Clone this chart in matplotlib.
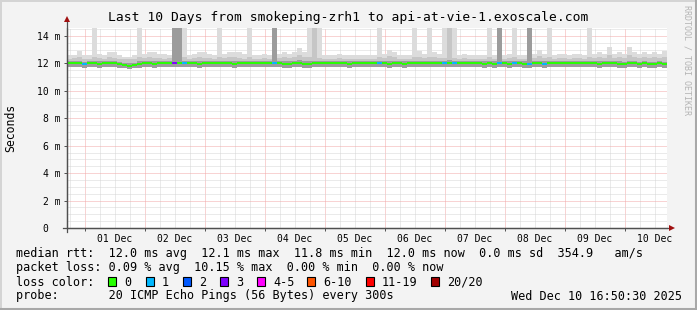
import matplotlib
matplotlib.use('Agg')
import matplotlib.pyplot as plt
from matplotlib.lines import Line2D
from matplotlib.patches import Rectangle
import numpy as np

plt.rcParams['font.family'] = ['DejaVu Sans Mono']

W, H = 697, 310

title = 'Last 10 Days from smokeping-zrh1 to api-at-vie-1.exoscale.com'
day_labels = ['01 Dec', '02 Dec', '03 Dec', '04 Dec', '05 Dec',
              '06 Dec', '07 Dec', '08 Dec', '09 Dec', '10 Dec']
ytick_vals = [0, 2, 4, 6, 8, 10, 12, 14]
ytick_labels = ['0  ', '2 m', '4 m', '6 m', '8 m', '10 m', '12 m', '14 m']

# time in days from 01 Dec 00:00, 120 bins of 2 hours ending Dec 10 16:50:30
t_start = -(7 + 9.5 / 60) / 24
n_bins = 120

# median rtt per bin (ms)
med = [12.0, 12.0, 12.0, 11.95, 12.0, 12.0, 11.95, 12.0, 12.0, 12.0, 11.95, 11.85,
       11.8, 11.9, 11.95, 12.0, 12.0, 11.95, 12.0, 12.0, 12.0, 12.0, 12.0, 12.0,
       12.0, 12.0, 11.95, 12.0, 12.0, 12.0, 12.05, 12.0, 12.0, 11.95, 12.0, 12.0,
       12.0, 12.0, 12.0, 12.05, 12.0, 12.0, 12.0, 11.95, 11.95, 12.0, 12.0, 11.95,
       11.95, 12.0, 12.0, 12.0, 12.05, 12.0, 12.0, 12.0, 11.95, 12.0, 12.0, 12.0,
       12.0, 12.0, 12.0, 12.05, 11.95, 12.0, 12.0, 11.95, 12.0, 12.0, 12.0, 12.0,
       12.0, 12.0, 12.0, 12.0, 12.0, 12.0, 12.0, 12.0, 12.0, 12.0, 12.0, 11.95,
       12.0, 11.95, 12.0, 12.0, 11.95, 12.0, 12.0, 11.95, 11.95, 12.0, 12.0, 11.95,
       12.0, 12.0, 12.0, 12.0, 12.0, 12.05, 12.0, 12.0, 12.0, 12.0, 11.95, 12.0,
       12.0, 12.0, 11.95, 11.95, 12.05, 12.0, 11.95, 12.0, 11.95, 11.95, 12.0, 11.95]

# lost pings (of 20) per bin
loss = [0, 0, 0, 1, 0, 0, 0, 0, 0, 0, 0, 0,
        0, 0, 0, 0, 0, 0, 0, 0, 0, 3, 0, 1,
        0, 0, 0, 0, 0, 0, 0, 0, 0, 0, 0, 0,
        0, 0, 0, 0, 0, 1, 0, 0, 0, 0, 0, 0,
        0, 0, 0, 0, 0, 0, 0, 0, 0, 0, 0, 0,
        0, 0, 1, 0, 0, 0, 0, 0, 0, 0, 0, 0,
        0, 0, 0, 1, 0, 1, 0, 0, 0, 0, 0, 0,
        0, 0, 1, 0, 0, 1, 0, 0, 1, 0, 0, 1,
        0, 0, 0, 0, 0, 0, 0, 0, 0, 0, 0, 0,
        0, 0, 0, 0, 0, 0, 0, 0, 0, 0, 0, 0]

# smoke: lowest ping, dark core top, medium band top, highest ping (ms)
s_lo = [11.75, 11.75, 11.75, 11.7, 11.75, 11.75, 11.7, 11.75, 11.75, 11.75, 11.7, 11.65,
        11.6, 11.65, 11.7, 11.75, 11.75, 11.7, 11.75, 11.75, 11.75, 11.75, 11.75, 11.75,
        11.75, 11.75, 11.7, 11.75, 11.75, 11.75, 11.75, 11.75, 11.75, 11.7, 11.75, 11.75,
        11.75, 11.75, 11.75, 11.75, 11.75, 11.75, 11.75, 11.7, 11.7, 11.75, 11.75, 11.7,
        11.7, 11.75, 11.75, 11.75, 11.75, 11.75, 11.75, 11.75, 11.7, 11.75, 11.75, 11.75,
        11.75, 11.75, 11.75, 11.75, 11.7, 11.75, 11.75, 11.7, 11.75, 11.75, 11.75, 11.75,
        11.75, 11.75, 11.75, 11.75, 11.75, 11.75, 11.75, 11.75, 11.75, 11.75, 11.75, 11.7,
        11.75, 11.7, 11.75, 11.75, 11.7, 11.75, 11.75, 11.7, 11.7, 11.75, 11.75, 11.7,
        11.75, 11.75, 11.75, 11.75, 11.75, 11.75, 11.75, 11.75, 11.75, 11.75, 11.7, 11.75,
        11.75, 11.75, 11.7, 11.7, 11.75, 11.75, 11.7, 11.75, 11.7, 11.7, 11.75, 11.7]

s_mid = [12.15, 12.15, 12.2, 12.1, 12.15, 12.2, 12.15, 12.15, 12.2, 12.15, 12.1, 12.05,
         12.0, 12.05, 12.15, 12.2, 12.2, 12.15, 12.15, 12.15, 12.15, 14.7, 14.7, 12.2,
         12.15, 12.15, 12.15, 12.2, 12.15, 12.15, 12.2, 12.15, 12.2, 12.15, 12.15, 12.15,
         12.2, 12.15, 12.15, 12.2, 12.15, 14.7, 12.15, 12.2, 12.15, 12.15, 12.25, 12.15,
         12.2, 12.2, 12.2, 12.15, 12.2, 12.15, 12.15, 12.15, 12.15, 12.15, 12.15, 12.15,
         12.15, 12.15, 12.2, 12.2, 12.2, 12.15, 12.15, 12.15, 12.15, 12.2, 12.2, 12.15,
         12.2, 12.15, 12.15, 12.2, 12.25, 12.2, 12.15, 12.15, 12.15, 12.15, 12.15, 12.15,
         12.2, 12.15, 14.7, 12.15, 12.15, 12.2, 12.15, 12.15, 14.7, 12.15, 12.2, 12.15,
         12.2, 12.15, 12.15, 12.15, 12.15, 12.2, 12.15, 12.15, 12.2, 12.15, 12.15, 12.15,
         12.2, 12.15, 12.15, 12.1, 12.2, 12.15, 12.1, 12.15, 12.1, 12.1, 12.15, 12.1]

s_hi = [12.35, 12.4, 12.5, 12.35, 12.35, 12.45, 12.4, 12.35, 12.45, 12.4, 12.35, 12.3,
        12.3, 12.35, 12.45, 12.4, 12.45, 12.4, 12.4, 12.35, 12.4, 12.5, 12.5, 12.45,
        12.35, 12.4, 12.45, 12.4, 12.4, 12.35, 12.5, 12.4, 12.45, 12.45, 12.4, 12.35,
        12.5, 12.35, 12.35, 12.4, 12.35, 12.5, 12.4, 12.45, 12.4, 12.45, 12.6, 12.45,
        12.5, 14.7, 12.4, 12.35, 12.35, 12.35, 12.4, 12.35, 12.35, 12.35, 12.35, 12.35,
        12.35, 12.35, 12.5, 12.4, 12.55, 12.45, 12.35, 12.35, 12.35, 12.5, 12.5, 12.4,
        12.5, 12.45, 12.4, 12.4, 14.7, 12.4, 12.35, 12.4, 12.35, 12.35, 12.35, 12.35,
        12.5, 12.35, 12.5, 12.35, 12.4, 12.5, 12.35, 12.35, 12.5, 12.4, 12.55, 12.4,
        12.5, 12.35, 12.4, 12.4, 12.35, 12.4, 12.4, 12.35, 12.5, 12.4, 12.45, 12.4,
        12.6, 12.4, 12.45, 12.4, 12.6, 12.45, 12.4, 12.45, 12.4, 12.45, 12.4, 12.5]

s_max = [12.6, 12.6, 12.9, 12.6, 12.6, 14.7, 12.7, 12.6, 12.8, 12.8, 12.6, 12.5,
         12.5, 12.6, 14.7, 12.7, 12.8, 12.8, 12.7, 12.7, 12.6, 14.7, 14.7, 14.7,
         12.6, 12.7, 12.8, 12.8, 12.7, 12.6, 14.7, 12.7, 12.8, 12.8, 12.8, 12.7,
         14.7, 12.6, 12.6, 12.7, 12.6, 14.7, 12.7, 12.8, 12.7, 12.8, 13.1, 12.8,
         14.7, 14.7, 14.7, 12.6, 12.6, 12.6, 12.7, 12.6, 12.6, 12.6, 12.6, 12.6,
         12.6, 12.6, 14.7, 12.7, 13.0, 12.8, 12.6, 12.6, 12.6, 14.7, 12.9, 12.7,
         14.7, 12.8, 12.7, 14.7, 14.7, 14.7, 12.6, 12.7, 12.6, 12.6, 12.6, 12.6,
         14.7, 12.6, 14.7, 12.6, 12.7, 14.7, 12.6, 12.6, 14.7, 12.7, 13.0, 12.7,
         14.7, 12.6, 12.7, 12.7, 12.6, 12.7, 12.7, 12.6, 14.7, 12.7, 12.8, 12.7,
         13.2, 12.7, 12.8, 12.7, 13.2, 12.8, 12.7, 12.8, 12.7, 12.8, 12.7, 12.9]

loss_names = ['0', '1', '2', '3', '4-5', '6-10', '11-19', '20/20']
loss_colors = ['#26ff00', '#00b8ff', '#0059ff', '#7e00ff',
               '#ff00fe', '#ff5500', '#ff0000', '#a10000']


def loss_color(n):
    if n <= 3:
        return loss_colors[n]
    if n <= 5:
        return loss_colors[4]
    if n <= 10:
        return loss_colors[5]
    if n <= 19:
        return loss_colors[6]
    return loss_colors[7]


def fx(x):
    return x / W


def fy(y):
    return 1 - y / H


fig = plt.figure(figsize=(W / 100, H / 100), dpi=100, facecolor='#f3f3f3')

# 3d-ish frame
fig.add_artist(Line2D([0, 1], [fy(0.5), fy(0.5)], color='#d4d4d4', lw=1.4))
fig.add_artist(Line2D([fx(0.5), fx(0.5)], [0, 1], color='#d4d4d4', lw=1.4))
fig.add_artist(Line2D([0, 1], [fy(308.5), fy(308.5)], color='#a8a8a8', lw=2.2))
fig.add_artist(Line2D([fx(695.5), fx(695.5)], [0, 1], color='#a8a8a8', lw=2.2))

x0, x1, y0, y1 = 67, 667, 28, 228
ax = fig.add_axes([fx(x0), fy(y1), (x1 - x0) / W, (y1 - y0) / H])
ax.set_facecolor('white')

t_end = t_start + n_bins / 12
ax.set_xlim(t_start, t_end)
ax.set_ylim(0, (y1 - y0) / ((y1 - 36) / 14))

# grid
for d in np.arange(-0.25, t_end, 0.25):
    if d < t_start:
        continue
    major = abs(d - round(d)) < 1e-9
    ax.axvline(d, color='#f2a8a8' if major else '#d6d6d6', lw=0.72,
               ls=(0, (1, 1)), zorder=0)
for v in np.arange(0.5, 14.6, 0.5):
    major = abs(v / 2 - round(v / 2)) < 1e-9
    ax.axhline(v, color='#f2a8a8' if major else '#d6d6d6', lw=0.72,
               ls=(0, (1, 1)), zorder=0)

# smoke
edges = t_start + np.arange(n_bins + 1) / 12
ext = lambda a: list(a) + [a[-1]]
ax.fill_between(edges, ext(s_hi), ext(s_max), step='post', color='#dcdcdc', lw=0, zorder=1)
ax.fill_between(edges, ext(s_mid), ext(s_hi), step='post', color='#c6c6c6', lw=0, zorder=1)
ax.fill_between(edges, ext(s_lo), ext(s_mid), step='post', color='#9c9c9c', lw=0, zorder=1)

# median, coloured by loss
ax.hlines(med, edges[:-1], edges[1:], colors=[loss_color(n) for n in loss],
          lw=1.4, zorder=3)

for s in ['top', 'right']:
    ax.spines[s].set_visible(False)
for s in ['left', 'bottom']:
    ax.spines[s].set_color('#505050')
    ax.spines[s].set_linewidth(0.9)

ax.set_xticks(np.arange(0, 10))
ax.set_xticklabels([''] * 10)
ax.set_xticks(np.arange(0.5, 10, 1), day_labels, minor=True)
ax.tick_params(axis='x', which='major', length=2, width=0.7, color='#505050', direction='out')
ax.tick_params(axis='x', which='minor', length=0, pad=4.5, labelsize=7)
ax.set_yticks(ytick_vals, ytick_labels)
ax.tick_params(axis='y', length=2, width=0.7, color='#505050', pad=2.5, labelsize=7)

# axis arrows
fig.add_artist(Line2D([fx(x0), fx(x0)], [fy(y1 + 4), fy(21)], color='#505050', lw=0.9))
fig.add_artist(Line2D([fx(x0 - 4), fx(x1 + 3)], [fy(y1), fy(y1)], color='#505050', lw=0.9))
fig.add_artist(Line2D([fx(x0)], [fy(19)], marker='^', color='#a01010', ms=5, mew=0))
fig.add_artist(Line2D([fx(x1 + 5)], [fy(y1)], marker='>', color='#a01010', ms=5, mew=0))

fig.text(fx(348), fy(18), title, ha='center', va='center', fontsize=9.4)
fig.text(fx(11), fy(128), 'Seconds', rotation=90, ha='center', va='center', fontsize=8.3)
fig.text(fx(687), fy(5), 'RRDTOOL / TOBI OETIKER', rotation=270, ha='center', va='top',
         fontsize=6, color='#b4b4b4')

fs = 8.5
fig.text(fx(16), fy(254), 'median rtt:  12.0 ms avg  12.1 ms max  11.8 ms min  '
         '12.0 ms now  0.0 ms sd  354.9   am/s', ha='left', va='center', fontsize=fs)
fig.text(fx(16), fy(268), 'packet loss: 0.09 % avg  10.15 % max  0.00 % min  0.00 % now',
         ha='left', va='center', fontsize=fs)
fig.text(fx(16), fy(282), 'loss color:', ha='left', va='center', fontsize=fs)
box_x = [108, 146, 183, 220, 257, 307, 366, 431]
for bx, name, c in zip(box_x, loss_names, loss_colors):
    fig.add_artist(Rectangle((fx(bx), fy(286)), 8 / W, 9 / H, facecolor=c,
                             edgecolor='black', lw=0.8))
    fig.text(fx(bx + 16), fy(282), name, ha='left', va='center', fontsize=fs)
fig.text(fx(16), fy(296), 'probe:       20 ICMP Echo Pings (56 Bytes) every 300s',
         ha='left', va='center', fontsize=fs)
fig.text(fx(682), fy(296), 'Wed Dec 10 16:50:30 2025', ha='right', va='center', fontsize=fs)

fig.savefig('out.png', dpi=100, facecolor=fig.get_facecolor())
